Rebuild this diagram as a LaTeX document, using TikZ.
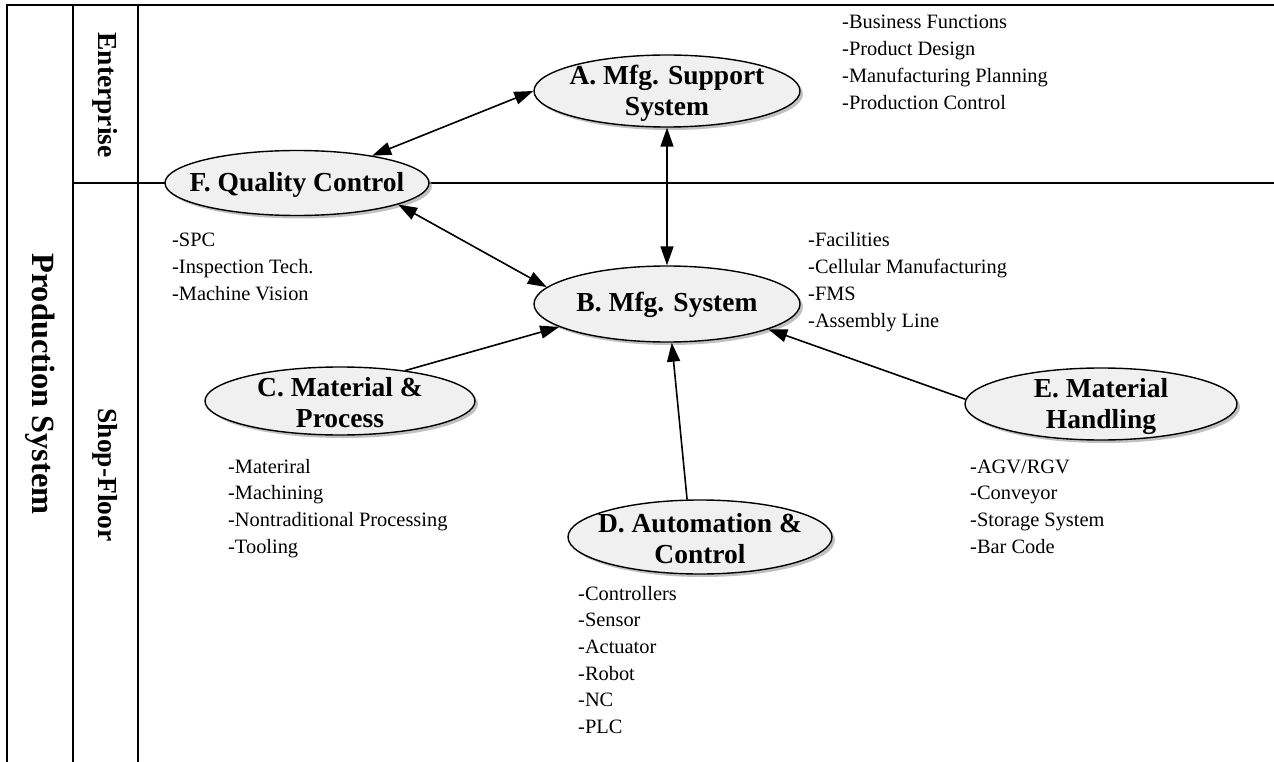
\documentclass[tikz,border=0pt]{standalone}
\usepackage{fontspec}
\setmainfont{Liberation Serif}
\usetikzlibrary{shapes.geometric,shadows,arrows.meta}
\begin{document}
\begin{tikzpicture}[x=1pt,y=-1pt,
  frame/.style={line width=1.8pt},
  oval/.style={ellipse, draw, line width=1.4pt, fill=gray!12, inner sep=0pt,
    drop shadow={shadow xshift=3pt,shadow yshift=-3pt,fill=gray!70,opacity=0.7}},
  olabel/.style={font=\fontsize{27.5}{31}\selectfont\bfseries, align=center, inner sep=0pt},
  item/.style={font=\fontsize{20.4}{26.7}\selectfont, anchor=base west, inner sep=0pt},
  tip/.style={Triangle[length=19pt,width=13pt]},
  link/.style={line width=1.6pt, -{Triangle[length=19pt,width=13pt]}},
  dlink/.style={line width=1.6pt, {Triangle[length=19pt,width=13pt]}-{Triangle[length=19pt,width=13pt]}},
  side/.style={font=\fontsize{27.5}{31}\selectfont\bfseries, rotate=-90, inner sep=0pt}
]
\useasboundingbox (0,0) rectangle (1274,762);
% frame
\coordinate (tl) at (7,5);
\coordinate (tr) at (1274,5);
\draw[frame] (7,762) -- (7,5) -- (1274,5);
\draw[frame] (73,5) -- (73,762);
\draw[frame] (138,5) -- (138,762);
\draw[line width=1.5pt] (73,183) -- (1274,183);
% side labels
\node[side, font=\fontsize{32.4}{36}\selectfont\bfseries] (ps) at (40,384) {Production System};
\node[side] (ent) at (105,95) {Enterprise};
\node[side] (sf) at (105,475) {Shop-Floor};
% ellipses
\node[oval, minimum width=266pt, minimum height=72pt] (A) at (667,91) {};
\node[oval, minimum width=264pt, minimum height=65pt] (F) at (297,183) {};
\node[oval, minimum width=266pt, minimum height=76pt] (B) at (667,304) {};
\node[oval, minimum width=270pt, minimum height=68pt] (C) at (340,401) {};
\node[oval, minimum width=264pt, minimum height=74pt] (D) at (700,537) {};
\node[oval, minimum width=272pt, minimum height=72pt] (E) at (1101,404) {};
\node[olabel] (At) at (667,93) {A. Mfg. Support\\System};
\node[olabel] (Ft) at (297,185) {F. Quality Control};
\node[olabel] (Bt) at (667,305) {B. Mfg. System};
\node[olabel] (Ct) at (340,403) {C. Material \&\\Process};
\node[olabel] (Dt) at (700,539) {D. Automation \&\\Control};
\node[olabel] (Et) at (1101,406) {E. Material\\Handling};
% connectors
\draw[dlink] (A.west) -- (F.20);
\draw[dlink] (A.south) -- (B.north);
\draw[dlink] (F.-12) -- (B.172);
\draw[link] (C.25) -- (B.192);
\draw[link] (D.109) -- (B.-83);
\draw[link] (E.178) -- (B.-14);
% lists
\foreach \t [count=\i] in {-Business Functions,-Product Design,-Manufacturing Planning,-Production Control}
  \node[item] (la\i) at (842,{29+26.7*(\i-1)}) {\t};
\foreach \t [count=\i] in {-SPC,-Inspection Tech.,-Machine Vision}
  \node[item] (lf\i) at (172,{247+26.7*(\i-1)}) {\t};
\foreach \t [count=\i] in {-Facilities,-Cellular Manufacturing,-FMS,-Assembly Line}
  \node[item] (lb\i) at (808,{247+26.7*(\i-1)}) {\t};
\foreach \t [count=\i] in {-Materiral,-Machining,-Nontraditional Processing,-Tooling}
  \node[item] (lc\i) at (228,{473+26.7*(\i-1)}) {\t};
\foreach \t [count=\i] in {-Controllers,-Sensor,-Actuator,-Robot,-NC,-PLC}
  \node[item] (ld\i) at (578,{600+26.7*(\i-1)}) {\t};
\foreach \t [count=\i] in {-AGV/RGV,-Conveyor,-Storage System,-Bar Code}
  \node[item] (le\i) at (970,{473+26.7*(\i-1)}) {\t};
\end{tikzpicture}
\end{document}
